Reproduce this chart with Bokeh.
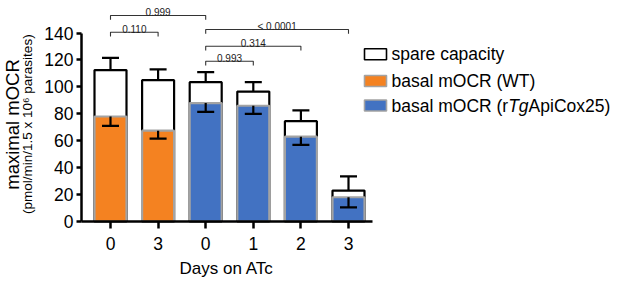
import numpy as np
from bokeh.plotting import figure
from bokeh.models import Range1d, FixedTicker, Title
from bokeh.core.properties import value
from bokeh.embed import file_html
from bokeh.resources import INLINE

# ---------------- data ----------------
day_labels = ["0", "3", "0", "1", "2", "3"]
strain = ["WT", "WT", "KD", "KD", "KD", "KD"]
basal = [78.0, 67.5, 88.0, 86.0, 63.0, 18.0]
basal_sd = [7.0, 6.0, 6.5, 6.0, 6.0, 7.5]
maximal = [112.5, 105.0, 103.5, 96.5, 74.5, 23.0]
maximal_sd = [9.0, 8.0, 7.5, 7.0, 8.0, 10.5]
comparisons = [(0, 1), (0, 2), (2, 3), (2, 4), (2, 5)]
p_labels = ["0.110", "0.999", "0.993", "0.314", "< 0.0001"]
y_ticks = [0, 20, 40, 60, 80, 100, 120, 140]
legend_labels = ["spare capacity", "basal mOCR (WT)", "basal mOCR (r", "Tg", "ApiCox25)"]
x_title = "Days on ATc"
y_title = "maximal mOCR"
y_subtitle = "(pmol/min/1.5 x 10\u2076 parasites)"

# ---------------- styling / layout ----------------
FONT = "Liberation Sans"
ORANGE = "#F48221"
BLUE = "#4272C2"
GREY = "#A3A3A3"
W, H = 617, 282
FRAME_LEFT, FRAME_BOTTOM = 32, 257   # canvas edges of the plot frame
AX_LEFT, AX_BOTTOM = 81, 221         # canvas position of the axes
PX_CAT = 47.6                        # pixels per category
PX_FIRST = 110.0                     # canvas x of first bar centre
PX_UNIT = 1.346                      # pixels per y unit


def dx(cx):
    return (cx - PX_FIRST) / PX_CAT


def dy(cy):
    return (AX_BOTTOM - cy) / PX_UNIT


p = figure(width=W, height=H,
           x_range=Range1d(dx(FRAME_LEFT), dx(W)), y_range=Range1d(dy(FRAME_BOTTOM), dy(0)),
           output_backend="svg", toolbar_location=None,
           min_border_left=FRAME_LEFT, min_border_right=0, min_border_top=0,
           min_border_bottom=H - FRAME_BOTTOM)
p.outline_line_color = None
p.xgrid.visible = False
p.ygrid.visible = False
p.background_fill_color = "white"
p.border_fill_color = "white"

x = np.arange(len(day_labels))
bar_w = 32 / PX_CAT
colors = [ORANGE if s == "WT" else BLUE for s in strain]

# total (maximal) bars: white with black outline
p.vbar(x=x, top=maximal, bottom=0, width=bar_w, fill_color="white",
       line_color="black", line_width=2.2)
# basal bars on top
p.vbar(x=x, top=basal, bottom=0, width=bar_w, fill_color=colors,
       line_color=GREY, line_width=2.2)

# error bars
cap = 17 / PX_CAT / 2
mx = np.array(maximal)
mhi = mx + np.array(maximal_sd)
b = np.array(basal)
blo = b - np.array(basal_sd)
p.segment(x0=x, y0=mx, x1=x, y1=mhi, line_color="black", line_width=2.2)
p.segment(x0=x - cap, y0=mhi, x1=x + cap, y1=mhi, line_color="black", line_width=2.2)
p.segment(x0=x, y0=b, x1=x, y1=blo, line_color="black", line_width=2.2)
p.segment(x0=x - cap, y0=blo, x1=x + cap, y1=blo, line_color="black", line_width=2.2)

# significance brackets
bracket_px = [31.7, 15.0, 60.7, 45.7, 29.0]
leg_px = 4.3
bxs, bys, tx, ty = [], [], [], []
for (i, j), lv in zip(comparisons, bracket_px):
    top = dy(lv)
    leg = dy(lv + leg_px)
    bxs.append([i, i, j, j])
    bys.append([leg, top, top, leg])
    tx.append((i + j) / 2)
    ty.append(dy(lv - 3.5))
p.multi_line(xs=bxs, ys=bys, line_color="#333333", line_width=1.1)
p.text(x=tx, y=ty, text=p_labels, text_font=value(FONT), text_font_size=value("10px"),
       text_align="center", text_baseline="alphabetic", text_color="#222222")

# axes (fixed inside the frame)
p.xaxis.fixed_location = 0
p.yaxis.fixed_location = dx(AX_LEFT)
p.xaxis.ticker = FixedTicker(ticks=list(x))
p.xaxis.major_label_overrides = {int(i): lab for i, lab in zip(x, day_labels)}
p.xaxis.bounds = (dx(AX_LEFT), 5.5)
p.yaxis.ticker = FixedTicker(ticks=y_ticks)
p.yaxis.bounds = (0, 140)
for ax in (p.xaxis, p.yaxis):
    ax.axis_line_width = 2.5
    ax.axis_line_color = "black"
    ax.major_tick_line_width = 2.5
    ax.major_tick_line_color = "black"
    ax.major_tick_in = 0
    ax.minor_tick_line_color = None
    ax.major_label_text_font = FONT
    ax.major_label_text_font_size = "17.5px"
    ax.major_label_text_color = "black"
p.xaxis.major_tick_out = 7
p.yaxis.major_tick_out = 5
p.xaxis.major_label_standoff = 8
p.yaxis.major_label_standoff = 3

# axis titles as side-panel titles
Y_MID = 124
t_small = Title(text=y_subtitle, align="left", vertical_align="bottom",
                offset=FRAME_BOTTOM - (Y_MID + 13.26 * 13.5 / 2), standoff=-4,
                text_font=FONT, text_font_size="13.5px", text_font_style="normal",
                text_color="black")
p.add_layout(t_small, "left")
t_big = Title(text=y_title, align="left", vertical_align="bottom",
              offset=FRAME_BOTTOM - (Y_MID + 7.055 * 18.5 / 2), standoff=-7,
              text_font=FONT, text_font_size="18.5px", text_font_style="normal",
              text_color="black")
p.add_layout(t_big, "left")
t_x = Title(text=x_title, align="left", vertical_align="top", offset=179 - FRAME_LEFT,
            standoff=3, text_font=FONT, text_font_size="17px", text_font_style="normal",
            text_color="black")
p.add_layout(t_x, "below")

# legend (drawn manually so "Tg" can be italic)
leg_rows_px = [53.8, 80.5, 105.0]
leg_fill = ["white", ORANGE, BLUE]
leg_line = ["black", GREY, GREY]
p.rect(x=[dx(375)] * 3, y=[dy(c) for c in leg_rows_px], width=22, height=11,
       width_units="screen", height_units="screen", fill_color=leg_fill,
       line_color=leg_line, line_width=1.6)
fs = 17.5
tx0 = 391
w_part1 = 6.667 * fs
w_part2 = 1.167 * fs
p.text(x=[dx(tx0), dx(tx0), dx(tx0), dx(tx0 + w_part1 + w_part2)],
       y=[dy(leg_rows_px[0]), dy(leg_rows_px[1]), dy(leg_rows_px[2]), dy(leg_rows_px[2])],
       text=[legend_labels[0], legend_labels[1], legend_labels[2], legend_labels[4]],
       text_font=value(FONT), text_font_size=value("17.5px"), text_align="left",
       text_baseline="middle", text_color="black")
p.text(x=[dx(tx0 + w_part1)], y=[dy(leg_rows_px[2])], text=[legend_labels[3]],
       text_font=value(FONT), text_font_size=value("17.5px"), text_font_style="italic",
       text_align="left", text_baseline="middle", text_color="black")

open("out.html", "w").write(file_html(p, INLINE))
